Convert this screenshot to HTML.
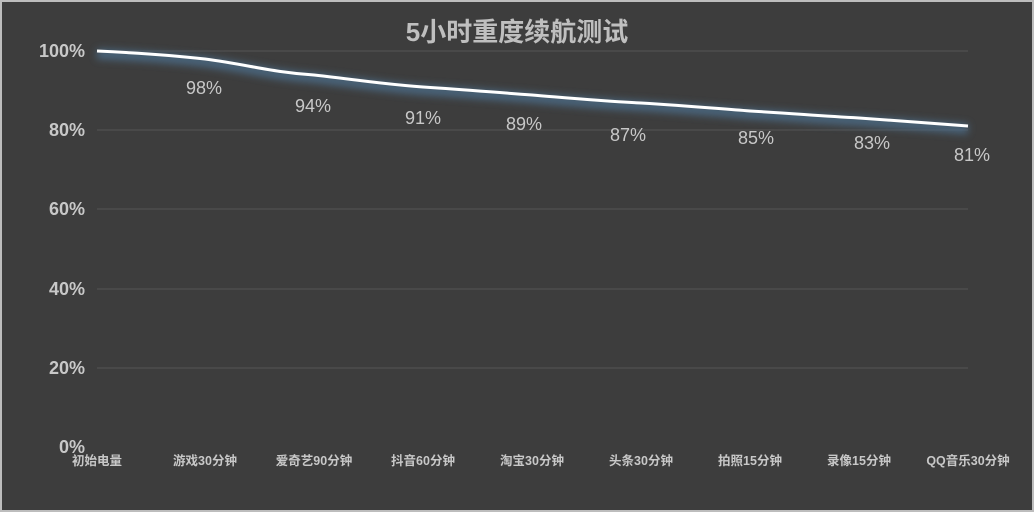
<!DOCTYPE html>
<html><head><meta charset="utf-8"><style>
html,body{margin:0;padding:0;background:#3d3d3d;}
svg{display:block;}
</style></head><body>
<svg width="1034" height="512" xmlns="http://www.w3.org/2000/svg">
<defs><filter id="g" x="-10%" y="-50%" width="120%" height="200%"><feGaussianBlur stdDeviation="4"/></filter></defs>
<rect x="0" y="0" width="1034" height="512" fill="#3d3d3d"/>
<rect x="1" y="1" width="1032" height="510" fill="none" stroke="#bdbdbd" stroke-width="2"/>
<text x="517" y="41" text-anchor="middle" font-family="Liberation Sans,'Noto Sans CJK SC',sans-serif" font-size="26" font-weight="bold" fill="#bfbfbf">5小时重度续航测试</text>
<g stroke="#555" stroke-width="1">
<line x1="97" y1="51" x2="968" y2="51"/><line x1="97" y1="130" x2="968" y2="130"/><line x1="97" y1="209" x2="968" y2="209"/><line x1="97" y1="289" x2="968" y2="289"/><line x1="97" y1="368" x2="968" y2="368"/>
</g>
<g font-family="Liberation Sans,sans-serif" font-size="18" font-weight="bold" fill="#c8c8c8" text-anchor="end">
<text x="85" y="57">100%</text><text x="85" y="136">80%</text><text x="85" y="215">60%</text><text x="85" y="295">40%</text><text x="85" y="374">20%</text><text x="85" y="453">0%</text>
</g>
<path d="M97,54 C140,56 170,58 205,62 C250,68 270,75 314,78 C360,83 380,87 423,90 C470,93 490,95 532,98 C580,102 600,104 641,106 C690,109 710,111 750,114 C800,117 820,119 859,121 C900,124 930,126 968,129" fill="none" stroke="#4c6a85" stroke-width="10" filter="url(#g)" opacity="0.9"/>
<path d="M97,51 C140,53 170,55 205,59 C250,65 270,72 314,75 C360,80 380,84 423,87 C470,90 490,92 532,95 C580,99 600,101 641,103 C690,106 710,108 750,111 C800,114 820,116 859,118 C900,121 930,123 968,126" fill="none" stroke="#ffffff" stroke-width="3"/>
<g font-family="Liberation Sans,sans-serif" font-size="18" fill="#c8c8c8" text-anchor="middle">
<text x="204" y="94">98%</text><text x="313" y="112">94%</text><text x="423" y="124">91%</text><text x="524" y="130">89%</text><text x="628" y="141">87%</text><text x="756" y="144">85%</text><text x="872" y="149">83%</text><text x="972" y="161">81%</text>
</g>
<g font-family="Liberation Sans,'Noto Sans CJK SC',sans-serif" font-size="12.5" font-weight="bold" fill="#c8c8c8" text-anchor="middle">
<text x="97" y="465">初始电量</text><text x="205" y="465">游戏30分钟</text><text x="314" y="465">爱奇艺90分钟</text><text x="423" y="465">抖音60分钟</text><text x="532" y="465">淘宝30分钟</text><text x="641" y="465">头条30分钟</text><text x="750" y="465">拍照15分钟</text><text x="859" y="465">录像15分钟</text><text x="968" y="465">QQ音乐30分钟</text>
</g>
</svg>
</body></html>
